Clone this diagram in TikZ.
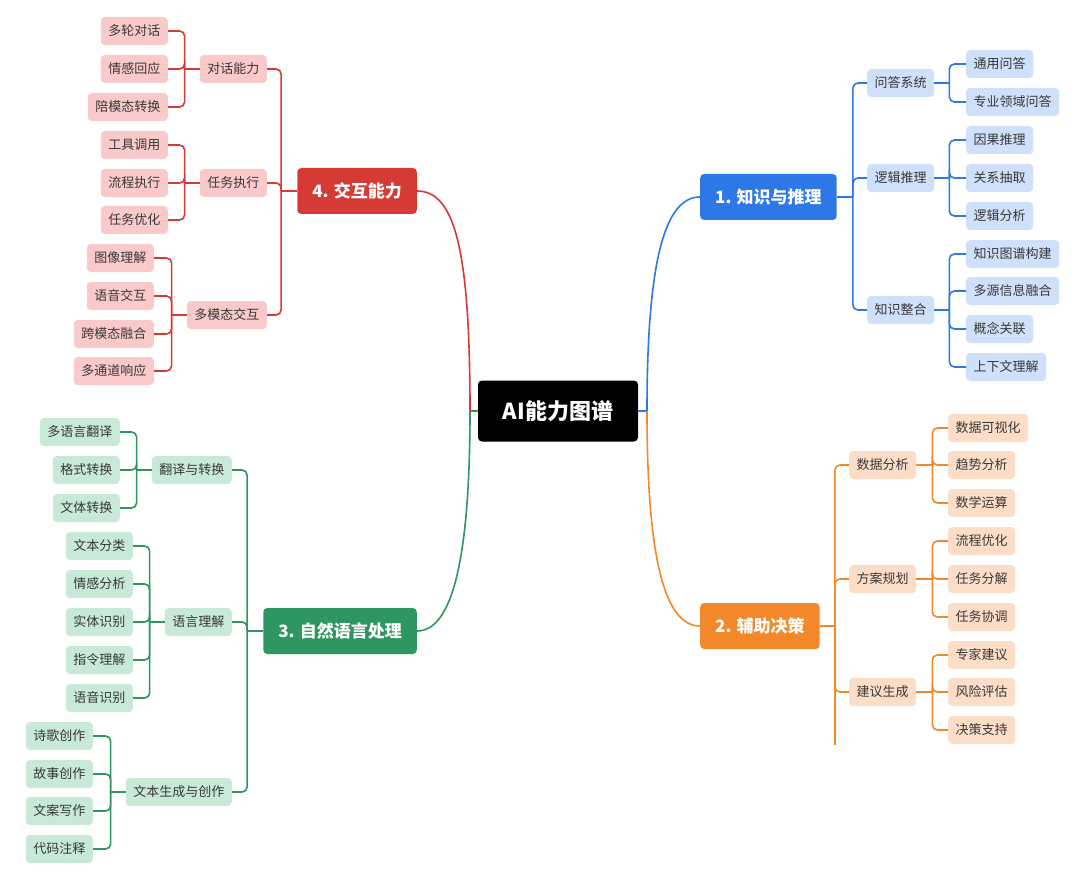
\documentclass[tikz,border=0pt]{standalone}
\usepackage{fontspec}
\setmainfont{Noto Sans CJK SC}
\definecolor{kblue}{RGB}{45,120,230}
\definecolor{kbluel}{RGB}{206,224,250}
\definecolor{korange}{RGB}{242,136,42}
\definecolor{korangel}{RGB}{252,221,200}
\definecolor{kgreen}{RGB}{46,150,96}
\definecolor{kgreenl}{RGB}{200,233,216}
\definecolor{kred}{RGB}{214,58,52}
\definecolor{kredl}{RGB}{250,202,202}
\tikzset{
  mind/.style={x=1pt,y=-1pt},
  rootbox/.style={fill=black,text=white,rounded corners=4pt,minimum width=160pt,minimum height=61pt,
    font=\fontsize{22}{26}\selectfont\bfseries},
  branch/.style={fill=#1,text=white,rounded corners=4pt,minimum height=46pt,inner xsep=15pt,
    font=\fontsize{17}{20}\selectfont\bfseries},
  leaf/.style={fill=#1,text=black!78,rounded corners=4pt,minimum height=28pt,inner xsep=7.5pt,
    font=\fontsize{13}{16}\selectfont},
  link/.style={draw=#1,line width=1.6pt,rounded corners=5pt},
}

\begin{document}
\begin{tikzpicture}[mind]
  \useasboundingbox[fill=white] (0,0) rectangle (1080,872);
  \node[rootbox] (ai) at (558,411) {AI能力图谱};
  \coordinate (aiL) at (470,411);
  \coordinate (aiR) at (647,411);

  % 1. knowledge (blue)
  \node[branch=kblue,anchor=west] (know) at (700,197) {1. 知识与推理};
  \node[leaf=kbluel,anchor=west] (qa) at (867,83) {问答系统};
  \node[leaf=kbluel,anchor=west] (logic) at (867,178) {逻辑推理};
  \node[leaf=kbluel,anchor=west] (integ) at (867,310) {知识整合};
  \foreach \t/\y [count=\i] in {通用问答/64,专业领域问答/102}
    \node[leaf=kbluel,anchor=west] (qa\i) at (966,\y) {\t};
  \foreach \t/\y [count=\i] in {因果推理/140,关系抽取/178,逻辑分析/216}
    \node[leaf=kbluel,anchor=west] (logic\i) at (966,\y) {\t};
  \foreach \t/\y [count=\i] in {知识图谱构建/254,多源信息融合/291,概念关联/329,上下文理解/367}
    \node[leaf=kbluel,anchor=west] (integ\i) at (966,\y) {\t};

  \draw[link=kblue] (ai.east) -- (aiR);
  \draw[link=kblue] (aiR) .. controls (647,260) and (665,197) .. (know.west);
  \coordinate (knowj) at ([xshift=16pt]know.east);
  \draw[link=kblue] (know.east) -- (knowj);
  \foreach \c in {qa,logic,integ} \draw[link=kblue] (knowj) |- (\c.west);
  \foreach \c/\n in {qa/2,logic/3,integ/4} {
    \coordinate (\c j) at ([xshift=15pt]\c.east);
    \draw[link=kblue] (\c.east) -- (\c j);
    \foreach \i in {1,...,\n} \draw[link=kblue] (\c j) |- (\c\i.west);
  }

  % 2. decision (orange)
  \node[branch=korange,anchor=west] (deci) at (700,626) {2. 辅助决策};
  \node[leaf=korangel,anchor=west] (data) at (849,465) {数据分析};
  \node[leaf=korangel,anchor=west] (plan) at (849,579) {方案规划};
  \node[leaf=korangel,anchor=west] (advice) at (849,692) {建议生成};
  \foreach \t/\y [count=\i] in {数据可视化/428,趋势分析/465,数学运算/503}
    \node[leaf=korangel,anchor=west] (data\i) at (948,\y) {\t};
  \foreach \t/\y [count=\i] in {流程优化/541,任务分解/579,任务协调/617}
    \node[leaf=korangel,anchor=west] (plan\i) at (948,\y) {\t};
  \foreach \t/\y [count=\i] in {专家建议/655,风险评估/692,决策支持/730}
    \node[leaf=korangel,anchor=west] (advice\i) at (948,\y) {\t};

  \draw[link=korange] (aiR) .. controls (647,560) and (665,626) .. (deci.west);
  \coordinate (decij) at ([xshift=15pt]deci.east);
  \coordinate (deciend) at (decij |- 0,745);
  \draw[link=korange] (deci.east) -- (decij);
  \foreach \c in {data,plan,advice} \draw[link=korange] (decij) |- (\c.west);
  \draw[link=korange] (decij) -- (deciend);
  \foreach \c in {data,plan,advice} {
    \coordinate (\c j) at ([xshift=16pt]\c.east);
    \draw[link=korange] (\c.east) -- (\c j);
    \foreach \i in {1,2,3} \draw[link=korange] (\c j) |- (\c\i.west);
  }

  % 3. nlp (green)
  \node[branch=kgreen,anchor=east] (nlp) at (417,631) {3. 自然语言处理};
  \node[leaf=kgreenl,anchor=east] (trans) at (232,470) {翻译与转换};
  \node[leaf=kgreenl,anchor=east] (under) at (232,622) {语言理解};
  \node[leaf=kgreenl,anchor=east] (gen) at (232,792) {文本生成与创作};
  \foreach \t/\y [count=\i] in {多语言翻译/432,格式转换/470,文体转换/508}
    \node[leaf=kgreenl,anchor=east] (trans\i) at (120,\y) {\t};
  \foreach \t/\y [count=\i] in {文本分类/546,情感分析/584,实体识别/622,指令理解/660,语音识别/698}
    \node[leaf=kgreenl,anchor=east] (under\i) at (133,\y) {\t};
  \foreach \t/\y [count=\i] in {诗歌创作/736,故事创作/774,文案写作/811,代码注释/849}
    \node[leaf=kgreenl,anchor=east] (gen\i) at (93,\y) {\t};

  \draw[link=kgreen] (ai.west) -- (aiL);
  \draw[link=kgreen] (aiL) .. controls (470,560) and (452,631) .. (nlp.east);
  \coordinate (nlpj) at ([xshift=-16pt]nlp.west);
  \draw[link=kgreen] (nlp.west) -- (nlpj);
  \foreach \c in {trans,under,gen} \draw[link=kgreen] (nlpj) |- (\c.east);
  \foreach \c/\n in {trans/3,under/5,gen/4} {
    \coordinate (\c j) at ([xshift=-15pt]\c.west);
    \draw[link=kgreen] (\c.west) -- (\c j);
    \foreach \i in {1,...,\n} \draw[link=kgreen] (\c j) |- (\c\i.east);
  }

  % 4. interaction (red)
  \node[branch=kred,anchor=east] (inter) at (417,191) {4. 交互能力};
  \node[leaf=kredl,anchor=east] (dialog) at (267,69) {对话能力};
  \node[leaf=kredl,anchor=east] (task) at (267,183) {任务执行};
  \node[leaf=kredl,anchor=east] (multi) at (267,315) {多模态交互};
  \foreach \t/\y [count=\i] in {多轮对话/31,情感回应/69,陪模态转换/107}
    \node[leaf=kredl,anchor=east] (dialog\i) at (168,\y) {\t};
  \foreach \t/\y [count=\i] in {工具调用/145,流程执行/183,任务优化/220}
    \node[leaf=kredl,anchor=east] (task\i) at (168,\y) {\t};
  \foreach \t/\y [count=\i] in {图像理解/258,语音交互/296,跨模态融合/334,多通道响应/371}
    \node[leaf=kredl,anchor=east] (multi\i) at (154,\y) {\t};

  \draw[link=kred] (aiL) .. controls (470,250) and (455,191) .. (inter.east);
  \coordinate (interj) at ([xshift=-16pt]inter.west);
  \draw[link=kred] (inter.west) -- (interj);
  \foreach \c in {dialog,task,multi} \draw[link=kred] (interj) |- (\c.east);
  \foreach \c/\n in {dialog/3,task/3,multi/4} {
    \coordinate (\c j) at ([xshift=-15pt]\c.west);
    \draw[link=kred] (\c.west) -- (\c j);
    \foreach \i in {1,...,\n} \draw[link=kred] (\c j) |- (\c\i.east);
  }
\end{tikzpicture}
\end{document}
